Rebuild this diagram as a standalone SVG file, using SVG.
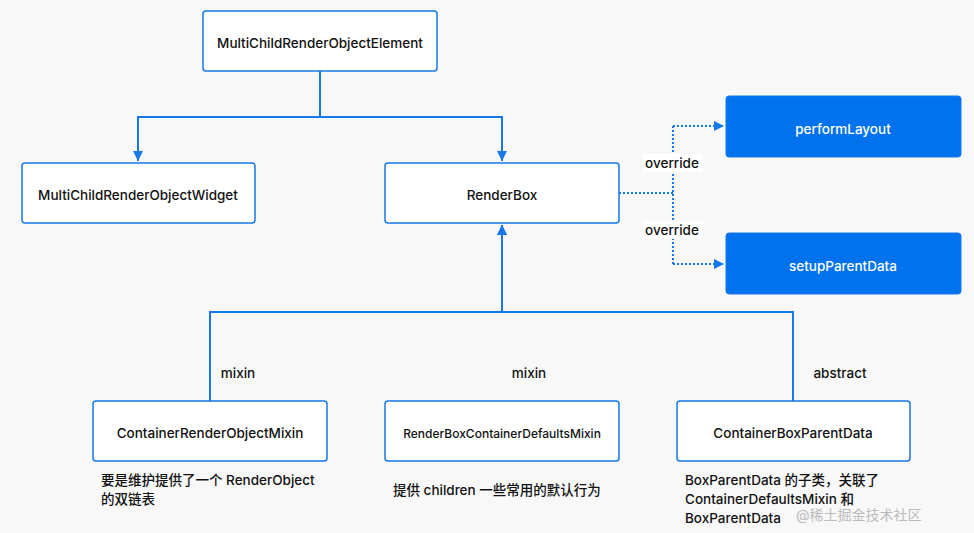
<svg xmlns="http://www.w3.org/2000/svg" width="974" height="533" viewBox="0 0 974 533">
<style>
text{font-family:"Inter","Noto Sans CJK SC",sans-serif;font-size:13.5px;font-weight:500;fill:#111}
.n{fill:#fff;stroke:#1677e8;stroke-width:1.5}
.f{fill:#0072ee;stroke:#1677e8}
.c{fill:none;stroke:#1677e8;stroke-width:2}
.d{fill:none;stroke:#1677e8;stroke-width:2;stroke-dasharray:2 2}
.m{text-anchor:middle}
.w{fill:#fff}
</style>
<defs><marker id="a" viewBox="0 0 10 10" refX="10" refY="5" markerWidth="5" markerHeight="5" orient="auto"><path d="M0,0L10,5L0,10z" fill="#1677e8"/></marker></defs>
<rect width="974" height="533" fill="#f8f8f8"/>
<g id="connectors">
<path class="c" d="M320,71V117H138V161M320,117H502V161" marker-end="url(#a)"/>
<path class="c" d="M138,117V161" marker-end="url(#a)"/>
<path class="c" d="M210,401V312H793V401M502,312V225" marker-end="url(#a)"/>
<path class="c" d="M502,312V225" marker-end="url(#a)"/>
<path class="d" d="M619,193H673M673,126V264"/>
<path class="d" d="M673,126H724" marker-end="url(#a)"/>
<path class="d" d="M673,264H724" marker-end="url(#a)"/>
<rect class="w" x="643" y="154" width="60" height="18"/>
<rect class="w" x="643" y="221" width="60" height="18"/>
<text x="672" y="168" class="m">override</text>
<text x="672" y="235" class="m">override</text>
<text x="238" y="378" class="m">mixin</text>
<text x="529" y="378" class="m">mixin</text>
<text x="840" y="378" class="m">abstract</text>
</g>
<g id="top"><rect class="n" x="203" y="11" width="234" height="60" rx="3"/><text x="320" y="48" class="m">MultiChildRenderObjectElement</text></g>
<g id="widget"><rect class="n" x="22" y="163" width="233" height="60" rx="3"/><text x="138" y="200" class="m">MultiChildRenderObjectWidget</text></g>
<g id="renderbox"><rect class="n" x="385" y="163" width="234" height="60" rx="3"/><text x="502" y="200" class="m">RenderBox</text></g>
<g id="performLayout"><rect class="f" x="726" y="96" width="235" height="61" rx="3"/><text x="843" y="134" class="m w">performLayout</text></g>
<g id="setupParentData"><rect class="f" x="726" y="233" width="235" height="61" rx="3"/><text x="843" y="271" class="m w">setupParentData</text></g>
<g id="crom"><rect class="n" x="93" y="401" width="234" height="60" rx="3"/><text x="210" y="438" class="m">ContainerRenderObjectMixin</text></g>
<g id="rbcdm"><rect class="n" x="385" y="401" width="234" height="60" rx="3"/><text x="502" y="438" class="m" style="font-size:12px">RenderBoxContainerDefaultsMixin</text></g>
<g id="cbpd"><rect class="n" x="677" y="401" width="233" height="60" rx="3"/><text x="793" y="438" class="m">ContainerBoxParentData</text></g>
<g id="notes">
<text x="101" y="485">要是维护提供了一个 RenderObject</text>
<text x="101" y="504">的双链表</text>
<text x="393" y="495">提供 children 一些常用的默认行为</text>
<text x="685" y="485">BoxParentData 的子类，关联了</text>
<text x="685" y="504">ContainerDefaultsMixin 和</text>
<text x="685" y="523">BoxParentData</text>
<text x="796" y="520" style="fill:#bbb;font-size:14px;font-weight:400">@稀土掘金技术社区</text>
</g>
</svg>
